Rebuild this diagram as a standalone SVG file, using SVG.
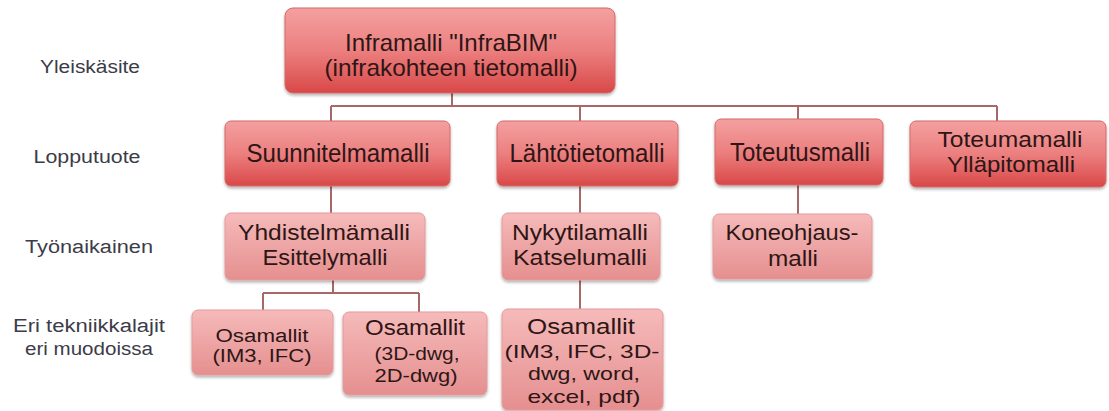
<svg xmlns="http://www.w3.org/2000/svg" width="1109" height="411" viewBox="0 0 1109 411">
<defs>
<linearGradient id="gDark" x1="0" y1="0" x2="0" y2="1">
<stop offset="0" stop-color="#f4a0a0"/>
<stop offset="0.5" stop-color="#ec7f7f"/>
<stop offset="1" stop-color="#d94848"/>
</linearGradient>
<linearGradient id="gLight" x1="0" y1="0" x2="0" y2="1">
<stop offset="0" stop-color="#f6baba"/>
<stop offset="1" stop-color="#e58f8f"/>
</linearGradient>
<filter id="sh" x="-10%" y="-10%" width="120%" height="130%">
<feGaussianBlur in="SourceAlpha" stdDeviation="1.5"/>
<feOffset dx="0" dy="1.5" result="b"/>
<feComponentTransfer><feFuncA type="linear" slope="0.3"/></feComponentTransfer>
<feMerge><feMergeNode/><feMergeNode in="SourceGraphic"/></feMerge>
</filter>
</defs>
<style>
.dark{fill:url(#gDark);stroke:#d46a6a;stroke-width:1;filter:url(#sh)}
.light{fill:url(#gLight);stroke:#e59a9a;stroke-width:1;filter:url(#sh)}
.t{font-family:"Liberation Sans",Arial,sans-serif;fill:#2e1616;text-anchor:middle}
.lbl{font-family:"Liberation Sans",Arial,sans-serif;fill:#3c3c48;text-anchor:middle;font-size:18px}
.c{fill:none;stroke:#a86868;stroke-width:2}
</style>
<rect width="1109" height="411" fill="#ffffff"/>

<g id="labels">
<text class="lbl" x="90" y="73" textLength="100" lengthAdjust="spacingAndGlyphs">Yleiskäsite</text>
<text class="lbl" x="87" y="163" textLength="107" lengthAdjust="spacingAndGlyphs">Lopputuote</text>
<text class="lbl" x="89" y="253" textLength="128" lengthAdjust="spacingAndGlyphs">Työnaikainen</text>
<text class="lbl" x="89" y="332" textLength="152" lengthAdjust="spacingAndGlyphs">Eri tekniikkalajit</text>
<text class="lbl" x="89" y="355" textLength="128" lengthAdjust="spacingAndGlyphs">eri muodoissa</text>
</g>

<g id="connectors">
<path class="c" d="M452 93 V106 M331 106 H997 M331 106 V121 M580 106 V121 M798 106 V119 M997 106 V121"/>
<path class="c" d="M331 186 V213 M580 186 V213 M798 185 V214"/>
<path class="c" d="M333 280 V293 M263 293 H419 M263 293 V310 M419 293 V312 M580 280 V309"/>
</g>

<g id="n-inframalli">
<rect class="dark" x="285" y="8" width="330" height="85" rx="8"/>
<text class="t" x="451" y="51" font-size="24" textLength="212" lengthAdjust="spacingAndGlyphs">Inframalli "InfraBIM"</text>
<text class="t" x="451" y="76" font-size="24" textLength="253" lengthAdjust="spacingAndGlyphs">(infrakohteen tietomalli)</text>
</g>

<g id="n-suunnitelmamalli">
<rect class="dark" x="225" y="121" width="225" height="65" rx="6"/>
<text class="t" x="338" y="162" font-size="25" textLength="183" lengthAdjust="spacingAndGlyphs">Suunnitelmamalli</text>
</g>

<g id="n-lahtotietomalli">
<rect class="dark" x="497" y="121" width="181" height="65" rx="6"/>
<text class="t" x="587" y="162" font-size="25" textLength="155" lengthAdjust="spacingAndGlyphs">Lähtötietomalli</text>
</g>

<g id="n-toteutusmalli">
<rect class="dark" x="715" y="119" width="168" height="66" rx="6"/>
<text class="t" x="800" y="161" font-size="25" textLength="140" lengthAdjust="spacingAndGlyphs">Toteutusmalli</text>
</g>

<g id="n-toteumamalli">
<rect class="dark" x="910" y="121" width="196" height="66" rx="6"/>
<text class="t" x="1010" y="147" font-size="22" textLength="145" lengthAdjust="spacingAndGlyphs">Toteumamalli</text>
<text class="t" x="1011" y="172" font-size="22" textLength="128" lengthAdjust="spacingAndGlyphs">Ylläpitomalli</text>
</g>

<g id="n-yhdistelmamalli">
<rect class="light" x="225" y="213" width="200" height="67" rx="6"/>
<text class="t" x="324" y="240" font-size="22" textLength="172" lengthAdjust="spacingAndGlyphs">Yhdistelmämalli</text>
<text class="t" x="325" y="265" font-size="22" textLength="125" lengthAdjust="spacingAndGlyphs">Esittelymalli</text>
</g>

<g id="n-nykytilamalli">
<rect class="light" x="502" y="213" width="158" height="67" rx="6"/>
<text class="t" x="580" y="240" font-size="22" textLength="136" lengthAdjust="spacingAndGlyphs">Nykytilamalli</text>
<text class="t" x="580" y="265" font-size="22" textLength="134" lengthAdjust="spacingAndGlyphs">Katselumalli</text>
</g>

<g id="n-koneohjausmalli">
<rect class="light" x="713" y="214" width="159" height="65" rx="6"/>
<text class="t" x="792" y="240" font-size="22" textLength="133" lengthAdjust="spacingAndGlyphs">Koneohjaus-</text>
<text class="t" x="793" y="266" font-size="22" textLength="50" lengthAdjust="spacingAndGlyphs">malli</text>
</g>

<g id="n-osamallit-1">
<rect class="light" x="192" y="310" width="141" height="65" rx="6"/>
<text class="t" x="262" y="342" font-size="18" textLength="93" lengthAdjust="spacingAndGlyphs">Osamallit</text>
<text class="t" x="262" y="362" font-size="18" textLength="99" lengthAdjust="spacingAndGlyphs">(IM3, IFC)</text>
</g>

<g id="n-osamallit-2">
<rect class="light" x="343" y="312" width="144" height="83" rx="6"/>
<text class="t" x="415" y="335" font-size="22" textLength="100" lengthAdjust="spacingAndGlyphs">Osamallit</text>
<text class="t" x="417" y="360" font-size="19" textLength="85" lengthAdjust="spacingAndGlyphs">(3D-dwg,</text>
<text class="t" x="416" y="382" font-size="19" textLength="83" lengthAdjust="spacingAndGlyphs">2D-dwg)</text>
</g>

<g id="n-osamallit-3">
<rect class="light" x="502" y="309" width="161" height="101" rx="6"/>
<text class="t" x="581" y="334" font-size="22" textLength="108" lengthAdjust="spacingAndGlyphs">Osamallit</text>
<text class="t" x="582" y="358" font-size="19" textLength="155" lengthAdjust="spacingAndGlyphs">(IM3, IFC, 3D-</text>
<text class="t" x="584" y="380" font-size="19" textLength="112" lengthAdjust="spacingAndGlyphs">dwg, word,</text>
<text class="t" x="584" y="403" font-size="19" textLength="113" lengthAdjust="spacingAndGlyphs">excel, pdf)</text>
</g>
</svg>
